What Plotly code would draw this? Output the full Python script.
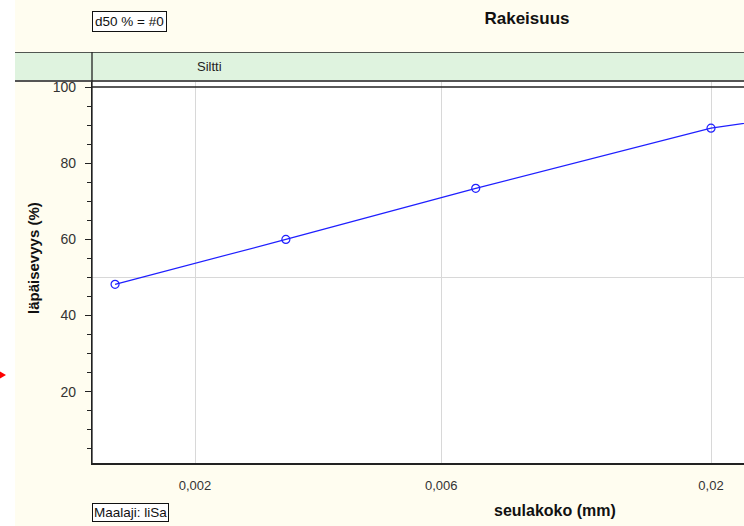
import math
import plotly.graph_objects as go

# ---- data ----
sieve_mm = [0.0014, 0.003, 0.007, 0.02, 0.063]
passing_pct = [48.2, 60.0, 73.4, 89.2, 99.0]
x_tickvals = [0.002, 0.006, 0.02]
x_ticktext = ["0,002", "0,006", "0,02"]
y_tickvals = [20, 40, 60, 80, 100]
y_ticktext = ["20", "40", "60", "80", "100"]
y_minor = [5, 10, 15, 25, 30, 35, 45, 50, 55, 65, 70, 75, 85, 90, 95, 105]
band_label = "Siltti"
band_start = 0.002

W, H = 744, 526
L, R, T, B = 92, 0, 52, 63
pw, ph = W - L - R, H - T - B

def px(xp):
    return (xp - L) / pw

def py(yp):
    return (H - B - yp) / ph

FONT = "Liberation Sans, Arial, sans-serif"

fig = go.Figure()
fig.add_trace(go.Scatter(
    x=sieve_mm, y=passing_pct, mode="lines+markers",
    line=dict(color="#1f1fff", width=1.2),
    marker=dict(symbol="circle-open", size=8, color="#1f1fff", line=dict(width=1.2)),
    showlegend=False, hoverinfo="x+y",
))

y0, y1 = 1.3, 109.2
band_lo = 101.6

shapes = [
    # white strip at far left
    dict(type="rect", xref="paper", yref="paper", x0=px(-5), x1=px(15), y0=py(H + 5), y1=py(-5),
         fillcolor="white", line=dict(width=0), layer="below"),
    # y=50 grid line
    dict(type="line", xref="paper", yref="y", x0=0, x1=1, y0=50, y1=50,
         line=dict(color="#d8d8d8", width=1), layer="below"),
    # green band
    dict(type="rect", xref="paper", yref="y", x0=px(15), x1=1, y0=band_lo, y1=y1,
         fillcolor="#dff3df", line=dict(width=0), layer="above"),
    # band top line
    dict(type="line", xref="paper", yref="y", x0=px(15), x1=1, y0=y1, y1=y1,
         line=dict(color="#222", width=1.3), layer="above"),
    # band bottom line
    dict(type="line", xref="paper", yref="y", x0=px(15), x1=1, y0=band_lo, y1=band_lo,
         line=dict(color="#555", width=2), layer="above"),
    # divider in band
    dict(type="line", xref="x", yref="y", x0=math.log10(band_start), x1=math.log10(band_start),
         y0=band_lo, y1=y1, line=dict(color="#333", width=1.3), layer="above"),
    # y axis line through band
    dict(type="line", xref="paper", yref="y", x0=0, x1=0, y0=y0, y1=y1,
         line=dict(color="#222", width=1.3), layer="above"),
    # 100 % line
    dict(type="line", xref="paper", yref="y", x0=0, x1=1, y0=100, y1=100,
         line=dict(color="#222", width=1.5), layer="above"),
    # small red arrow head at left
    dict(type="path", xref="paper", yref="paper",
         path=f"M {px(0)} {py(371.5)} L {px(6)} {py(375)} L {px(0)} {py(378.5)} Z",
         fillcolor="#ff0000", line=dict(width=0)),
]

annotations = [
    dict(text=band_label, xref="x", yref="y", x=math.log10(band_start), y=(band_lo + y1) / 2,
         xanchor="left", yanchor="middle", xshift=0, showarrow=False,
         font=dict(family=FONT, size=13, color="#222")),
    dict(text="<b>läpäisevyys (%)</b>", xref="paper", yref="paper", x=px(33), y=py(258),
         textangle=-90, showarrow=False, xanchor="center", yanchor="middle",
         font=dict(family=FONT, size=15, color="#111")),
    dict(text="<b>seulakoko (mm)</b>", xref="paper", yref="paper", x=px(555), y=py(510),
         showarrow=False, xanchor="center", yanchor="middle",
         font=dict(family=FONT, size=16, color="#111")),
    dict(text="d50 % = #0", xref="paper", yref="paper", x=px(92), y=py(21.5),
         showarrow=False, xanchor="left", yanchor="middle",
         bordercolor="#111", borderwidth=1, borderpad=2, bgcolor="white",
         font=dict(family=FONT, size=13.5, color="#111")),
    dict(text="Maalaji: liSa", xref="paper", yref="paper", x=px(92), y=py(512.5),
         showarrow=False, xanchor="left", yanchor="middle",
         bordercolor="#111", borderwidth=1, borderpad=1, bgcolor="white",
         font=dict(family=FONT, size=13.5, color="#111")),
]

fig.update_layout(
    width=W, height=H,
    margin=dict(l=L, r=R, t=T, b=B),
    paper_bgcolor="#fffdf0",
    plot_bgcolor="white",
    title=dict(text="<b>Rakeisuus</b>", x=527 / W, y=1 - 18 / H, xanchor="center", yanchor="middle",
               font=dict(family=FONT, size=17, color="#111")),
    shapes=shapes,
    annotations=annotations,
    font=dict(family=FONT),
)

fig.update_xaxes(
    type="log",
    range=[math.log10(0.002) - 103 / 516, math.log10(0.002) + 549 / 516],
    tickvals=x_tickvals, ticktext=x_ticktext,
    ticks="", showgrid=True, gridcolor="#d8d8d8", gridwidth=1,
    showline=True, linecolor="#222", linewidth=1.5,
    tickfont=dict(family=FONT, size=13, color="#333"),
    ticklabelstandoff=10, zeroline=False,
)
fig.update_yaxes(
    range=[y0, y1],
    tickvals=y_tickvals, ticktext=y_ticktext,
    ticks="outside", ticklen=6, tickwidth=1.3, tickcolor="#222",
    minor=dict(tickvals=y_minor, ticks="outside", ticklen=4, tickwidth=1.2, tickcolor="#222", showgrid=False),
    showgrid=False, zeroline=False,
    showline=True, linecolor="#222", linewidth=1.3,
    tickfont=dict(family=FONT, size=14, color="#333"),
    ticklabelstandoff=6,
)

fig.write_html("out.html", config={"displayModeBar": False},
               post_script="document.body.style.margin='0px';document.body.style.overflow='hidden';")
